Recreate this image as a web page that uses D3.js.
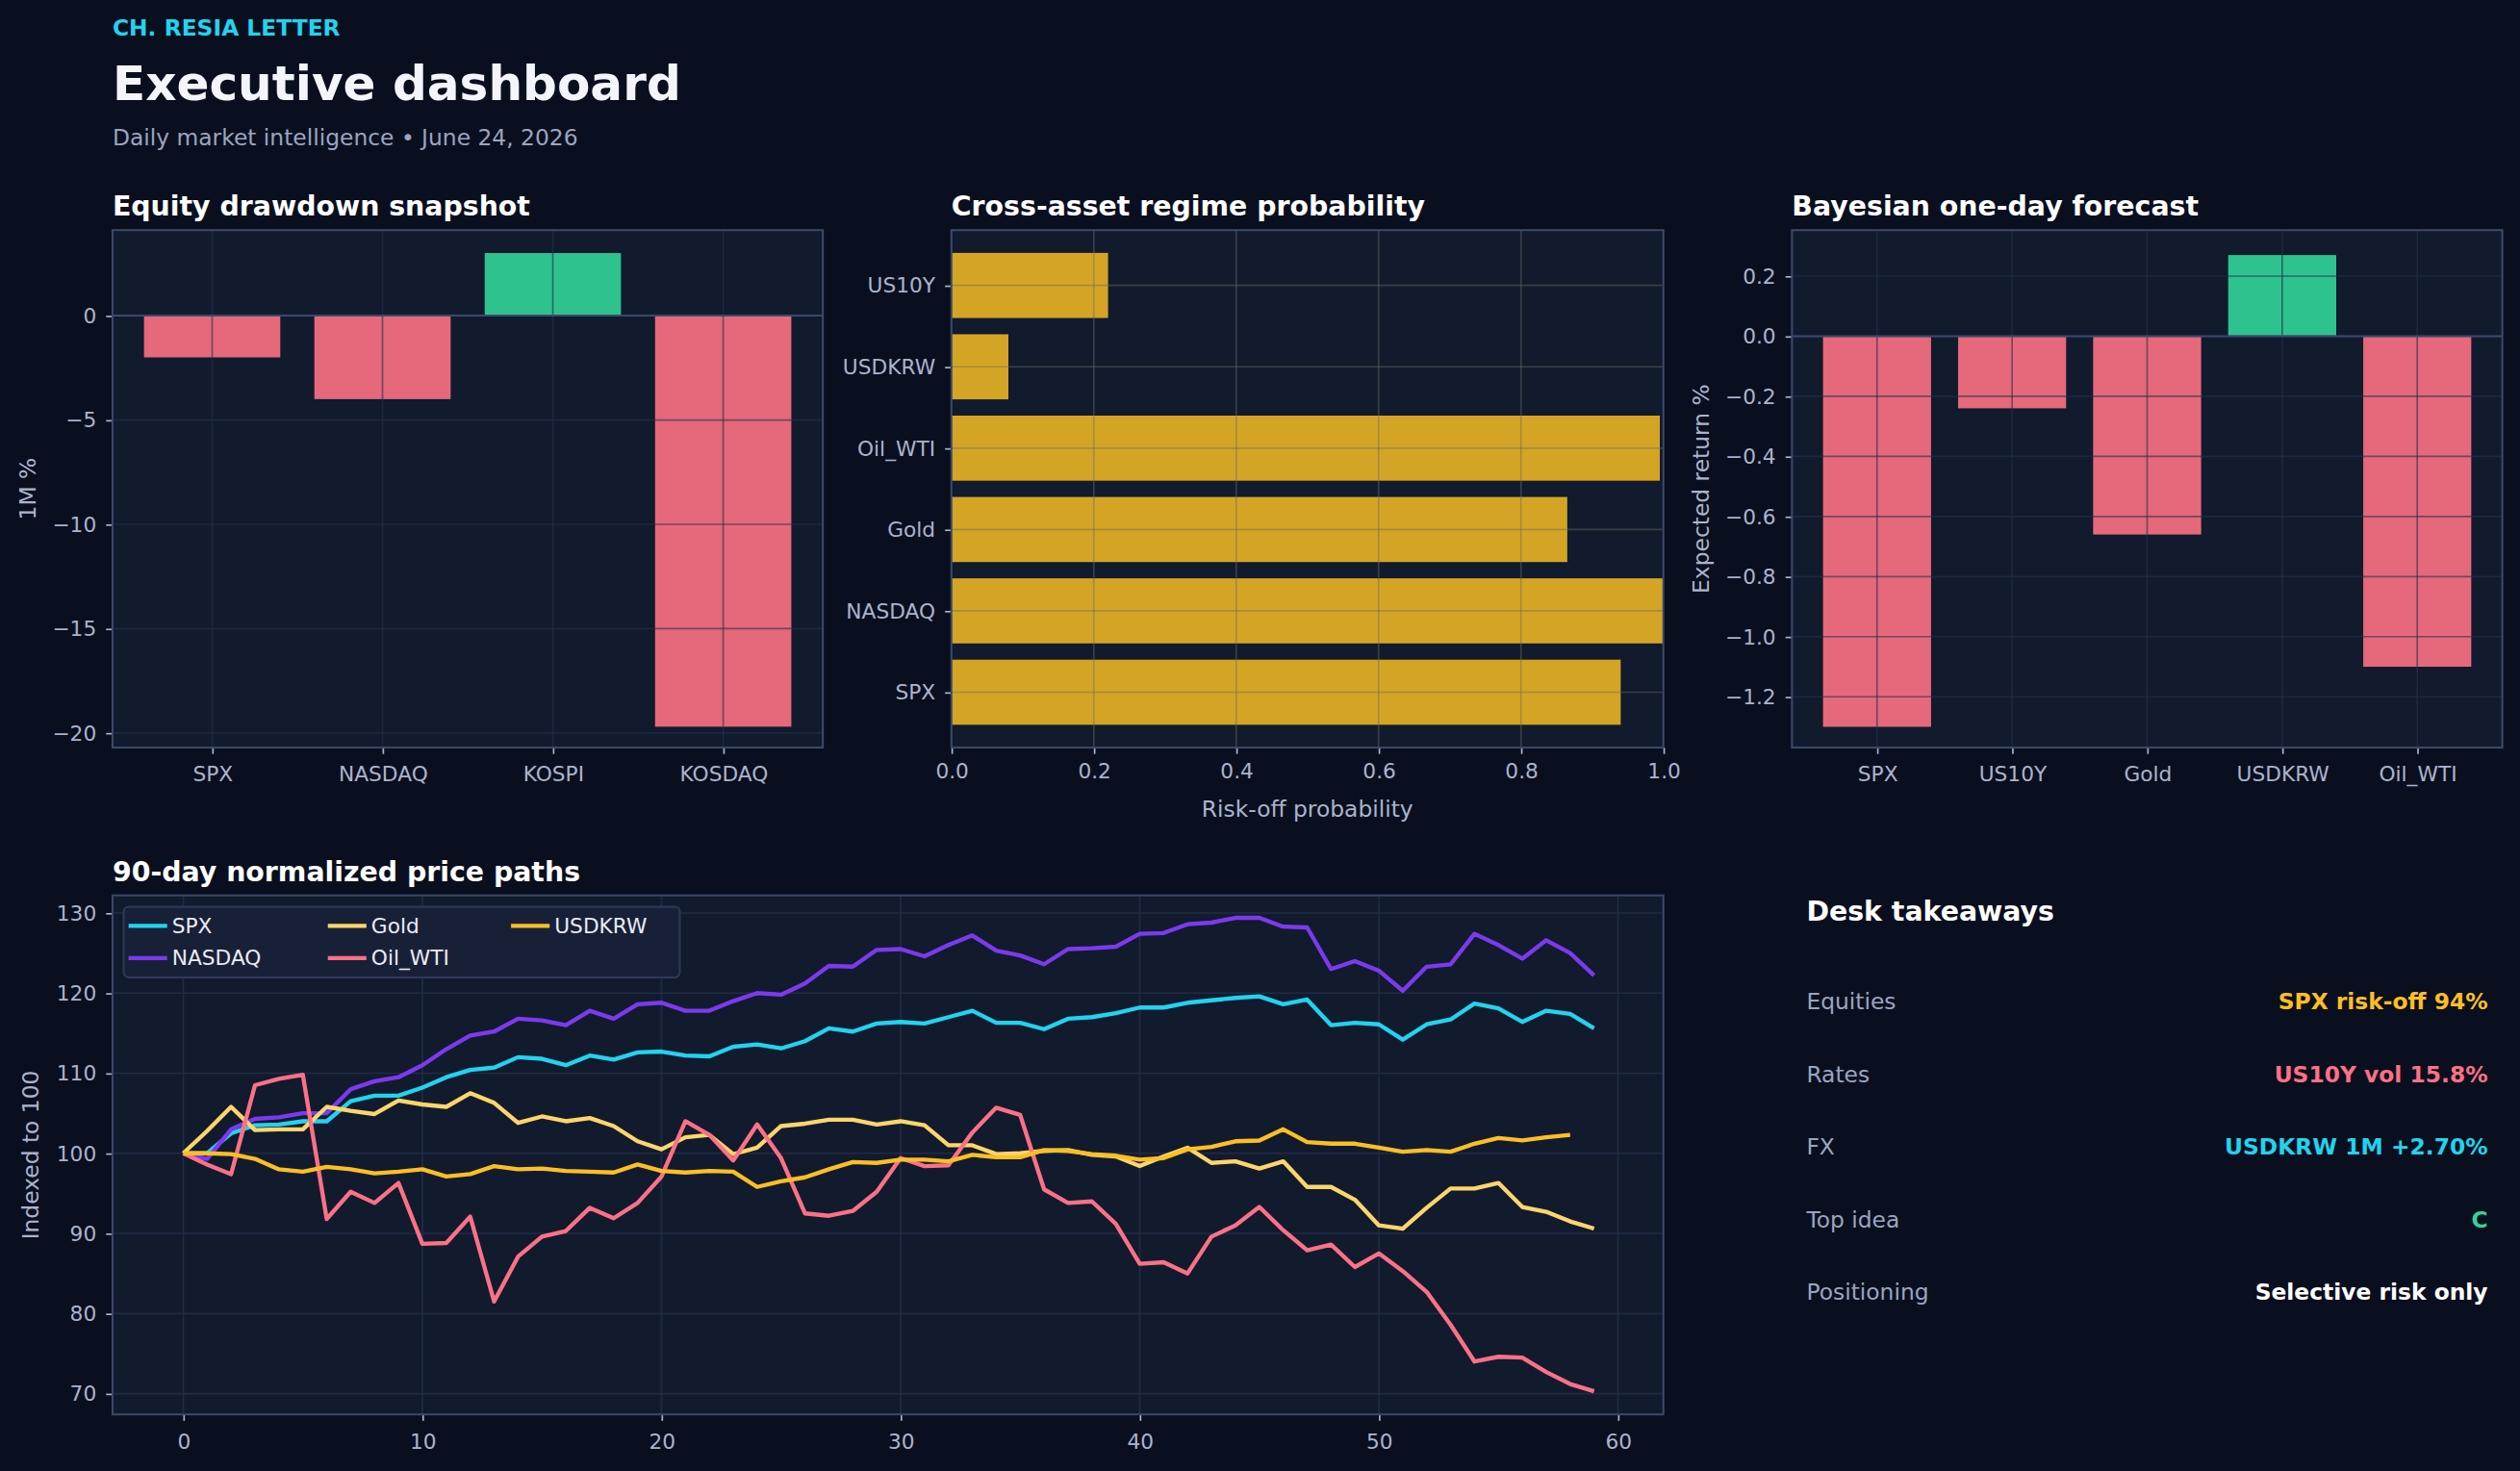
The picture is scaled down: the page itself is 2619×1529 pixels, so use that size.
<!DOCTYPE html><html><head><meta charset="utf-8">
<script src="https://cdn.jsdelivr.net/npm/d3@7"></script>
<style>html,body{margin:0;background:#0a0f1f;}svg{display:block;font-family:"DejaVu Sans",sans-serif;}</style></head><body>
<svg id="c" width="2619" height="1529" viewBox="0 0 1568 915"></svg>
<script>
const eqCats=["SPX","NASDAQ","KOSPI","KOSDAQ"];
const eqVals=[-2.0,-4.0,3.0,-19.7];
const regCats=["SPX","NASDAQ","Gold","Oil_WTI","USDKRW","US10Y"];
const regVals=[0.94,1.0,0.865,0.995,0.08,0.22];
const fcCats=["SPX","US10Y","Gold","USDKRW","Oil_WTI"];
const fcVals=[-1.3,-0.24,-0.66,0.27,-1.1];
const spx=[100,100,102.5,103.5,103.6,104,104,106.5,107.2,107.2,108.2,109.5,110.4,110.7,112,111.8,111,112.2,111.7,112.6,112.7,112.2,112.1,113.3,113.6,113.1,114,115.6,115.2,116.2,116.4,116.2,117,117.8,116.3,116.3,115.5,116.8,117,117.5,118.2,118.2,118.8,119.1,119.4,119.6,118.6,119.2,116,116.3,116.1,114.2,116.1,116.7,118.7,118.1,116.4,117.8,117.4,115.6];
const nasdaq=[100,99.3,103,104.3,104.5,105,105,108,109,109.5,111,113,114.7,115.2,116.8,116.6,116,117.8,116.8,118.6,118.8,117.8,117.8,119,120,119.8,121.2,123.4,123.3,125.4,125.5,124.6,126,127.2,125.3,124.7,123.6,125.5,125.6,125.8,127.4,127.5,128.6,128.8,129.4,129.4,128.3,128.2,123,124,122.8,120.3,123.3,123.6,127.4,126,124.3,126.6,125,122.2];
const gold=[100,102.8,105.8,102.9,103,103,105.8,105.3,104.9,106.6,106.1,105.8,107.5,106.3,103.8,104.6,104,104.4,103.4,101.5,100.5,102,102.3,99.9,100.7,103.4,103.7,104.2,104.2,103.6,104,103.5,101,101,99.9,100,100.3,100.4,99.8,99.6,98.4,99.6,100.7,98.8,99,98.1,99,95.8,95.8,94.2,91,90.6,93.2,95.6,95.6,96.3,93.3,92.7,91.5,90.6];
const oil=[100,98.6,97.4,108.5,109.3,109.8,91.8,95.2,93.8,96.3,88.7,88.8,92.1,81.5,87.1,89.6,90.3,93.2,91.9,93.8,97.1,104,102.3,99.1,103.6,99.4,92.5,92.2,92.8,95.2,99.4,98.4,98.5,102.6,105.7,104.8,95.5,93.8,94,91.2,86.2,86.4,85,89.6,91,93.3,90.4,87.9,88.6,85.8,87.5,85.3,82.7,78.6,74,74.6,74.5,72.7,71.2,70.3];
const usdkrw=[100,100,99.9,99.3,98,97.7,98.3,98,97.5,97.7,98,97.1,97.4,98.4,98,98.1,97.8,97.7,97.6,98.6,97.8,97.6,97.8,97.7,95.8,96.5,97,98,98.9,98.8,99.2,99.2,99,99.8,99.5,99.5,100.4,100.3,99.9,99.7,99.2,99.4,100.5,100.8,101.5,101.6,103,101.4,101.2,101.2,100.7,100.2,100.4,100.2,101.2,101.9,101.6,102,102.3];
const seriesNames=["SPX","NASDAQ","Gold","Oil_WTI","USDKRW"];
const seriesColors=["#22d3ee","#7c3aed","#fcd66a","#fb7185","#fbbf24"];
const seriesData=[spx,nasdaq,gold,oil,usdkrw];
const takeLabels=["Equities","Rates","FX","Top idea","Positioning"];
const takeValues=["SPX risk-off 94%","US10Y vol 15.8%","USDKRW 1M +2.70%","C","Selective risk only"];
const takeColors=["#fbbf24","#fb7185","#22d3ee","#34d399","#ffffff"];

const svg=d3.select("#c");
const RED="#e5697b",GREEN="#2ec28e",GOLDB="#d4a525",PANEL="#121a2e",BORDER="#3b4a6b",GRID="#243049",TICK="#aab4cc";
svg.append("rect").attr("width",1568).attr("height",915).attr("fill","#0a0f1f");
svg.append("text").attr("x",70).attr("y",22).text("CH. RESIA LETTER").attr("fill","#22d3ee").attr("font-size",14).attr("font-weight","bold");
svg.append("text").attr("x",70).attr("y",62).text("Executive dashboard").attr("fill","#f3f5fa").attr("font-size",30).attr("font-weight","bold");
svg.append("text").attr("x",70).attr("y",90).text("Daily market intelligence • June 24, 2026").attr("fill","#9aa5bf").attr("font-size",14);

function panel(x0,y0,x1,y1,title){
  svg.append("rect").attr("x",x0).attr("y",y0).attr("width",x1-x0).attr("height",y1-y0).attr("fill",PANEL);
  svg.append("text").attr("x",x0).attr("y",y0-9).text(title).attr("fill","#fff").attr("font-size",17).attr("font-weight","bold");
}
function border(x0,y0,x1,y1){svg.append("rect").attr("x",x0).attr("y",y0).attr("width",x1-x0).attr("height",y1-y0).attr("fill","none").attr("stroke",BORDER).attr("stroke-width",1.2);}
function styleAxis(g){g.selectAll("path").remove();g.selectAll("line").attr("stroke",TICK);g.selectAll("text").attr("fill",TICK).attr("font-size",13).attr("font-family","DejaVu Sans");}
function ylabel(x,y,t){svg.append("text").attr("transform",`translate(${x},${y}) rotate(-90)`).attr("text-anchor","middle").text(t).attr("fill",TICK).attr("font-size",14);}

// Panel 1
{const x0=70,x1=512,y0=143,y1=465;panel(x0,y0,x1,y1,"Equity drawdown snapshot");
const x=d3.scalePoint().domain(eqCats).range([x0,x1]).padding(0.585);
const y=d3.scaleLinear().domain([-20.7,4.1]).range([y1,y0]);
const bw=x.step()*0.8;const g=svg.append("g");
g.selectAll(".b").data(eqCats).join("rect").attr("x",d=>x(d)-bw/2).attr("width",bw)
 .attr("y",(d,i)=>y(Math.max(0,eqVals[i]))).attr("height",(d,i)=>Math.abs(y(eqVals[i])-y(0))).attr("fill",(d,i)=>eqVals[i]>=0?GREEN:RED);
[0,-5,-10,-15,-20].forEach(t=>g.append("line").attr("x1",x0).attr("x2",x1).attr("y1",y(t)).attr("y2",y(t)).attr("stroke",GRID).attr("stroke-opacity",0.6));
eqCats.forEach(c=>g.append("line").attr("x1",x(c)).attr("x2",x(c)).attr("y1",y0).attr("y2",y1).attr("stroke",GRID).attr("stroke-opacity",0.6));
g.append("line").attr("x1",x0).attr("x2",x1).attr("y1",y(0)).attr("y2",y(0)).attr("stroke","#3b4a6b").attr("stroke-width",1.2);
svg.append("g").attr("transform",`translate(${x0},0)`).call(d3.axisLeft(y).tickValues([0,-5,-10,-15,-20]).tickFormat(d=>d<0?"−"+(-d):d).tickSize(4).tickPadding(6)).call(styleAxis);
svg.append("g").attr("transform",`translate(0,${y1})`).call(d3.axisBottom(x).tickSize(4).tickPadding(8)).call(styleAxis);
border(x0,y0,x1,y1);ylabel(22,(y0+y1)/2,"1M %");}

// Panel 2
{const x0=592,x1=1035,y0=143,y1=465;panel(x0,y0,x1,y1,"Cross-asset regime probability");
const x=d3.scaleLinear().domain([0,1]).range([x0,x1]);
const y=d3.scalePoint().domain(regCats).range([y1,y0]).padding(0.68);
const bh=y.step()*0.8;const g=svg.append("g");
g.selectAll(".b").data(regCats).join("rect").attr("x",x0).attr("y",d=>y(d)-bh/2).attr("height",bh).attr("width",(d,i)=>x(regVals[i])-x0).attr("fill",GOLDB);
[0.2,0.4,0.6,0.8].forEach(t=>g.append("line").attr("x1",x(t)).attr("x2",x(t)).attr("y1",y0).attr("y2",y1).attr("stroke","#6b6a66").attr("stroke-opacity",0.45));
regCats.forEach(c=>g.append("line").attr("x1",x0).attr("x2",x1).attr("y1",y(c)).attr("y2",y(c)).attr("stroke","#6b6a66").attr("stroke-opacity",0.45));
svg.append("g").attr("transform",`translate(0,${y1})`).call(d3.axisBottom(x).tickValues([0,0.2,0.4,0.6,0.8,1]).tickFormat(d3.format(".1f")).tickSize(4).tickPadding(6)).call(styleAxis);
svg.append("g").attr("transform",`translate(${x0},0)`).call(d3.axisLeft(y).tickSize(4).tickPadding(6)).call(styleAxis);
border(x0,y0,x1,y1);
svg.append("text").attr("x",(x0+x1)/2).attr("y",508).attr("text-anchor","middle").text("Risk-off probability").attr("fill",TICK).attr("font-size",14);}

// Panel 3
{const x0=1115,x1=1557,y0=143,y1=465;panel(x0,y0,x1,y1,"Bayesian one-day forecast");
const x=d3.scalePoint().domain(fcCats).range([x0,x1]).padding(0.63);
const y=d3.scaleLinear().domain([-1.369,0.353]).range([y1,y0]);
const bw=x.step()*0.8;const g=svg.append("g");
const ticks=[0.2,0,-0.2,-0.4,-0.6,-0.8,-1.0,-1.2];
g.selectAll(".b").data(fcCats).join("rect").attr("x",d=>x(d)-bw/2).attr("width",bw)
 .attr("y",(d,i)=>y(Math.max(0,fcVals[i]))).attr("height",(d,i)=>Math.abs(y(fcVals[i])-y(0))).attr("fill",(d,i)=>fcVals[i]>=0?GREEN:RED);
ticks.forEach(t=>g.append("line").attr("x1",x0).attr("x2",x1).attr("y1",y(t)).attr("y2",y(t)).attr("stroke",GRID).attr("stroke-opacity",0.6));
fcCats.forEach(c=>g.append("line").attr("x1",x(c)).attr("x2",x(c)).attr("y1",y0).attr("y2",y1).attr("stroke",GRID).attr("stroke-opacity",0.6));
g.append("line").attr("x1",x0).attr("x2",x1).attr("y1",y(0)).attr("y2",y(0)).attr("stroke","#3b4a6b").attr("stroke-width",1.2);
svg.append("g").attr("transform",`translate(${x0},0)`).call(d3.axisLeft(y).tickValues(ticks).tickFormat(d=>(d<0?"−":"")+Math.abs(d).toFixed(1)).tickSize(4).tickPadding(6)).call(styleAxis);
svg.append("g").attr("transform",`translate(0,${y1})`).call(d3.axisBottom(x).tickSize(4).tickPadding(8)).call(styleAxis);
border(x0,y0,x1,y1);ylabel(1063,(y0+y1)/2,"Expected return %");}

// Panel 4
{const x0=70,x1=1035,y0=557,y1=880;panel(x0,y0,x1,y1,"90-day normalized price paths");
const x=d3.scaleLinear().domain([-2.96,61.9]).range([x0,x1]);
const y=d3.scaleLinear().domain([67.4,132.2]).range([y1,y0]);
const g=svg.append("g");
[70,80,90,100,110,120,130].forEach(t=>g.append("line").attr("x1",x0).attr("x2",x1).attr("y1",y(t)).attr("y2",y(t)).attr("stroke",GRID).attr("stroke-opacity",0.8));
[0,10,20,30,40,50,60].forEach(t=>g.append("line").attr("x1",x(t)).attr("x2",x(t)).attr("y1",y0).attr("y2",y1).attr("stroke",GRID).attr("stroke-opacity",0.8));
const line=d3.line().x((d,i)=>x(i)).y(d=>y(d));
seriesData.forEach((s,k)=>g.append("path").attr("d",line(s)).attr("fill","none").attr("stroke",seriesColors[k]).attr("stroke-width",2.6).attr("stroke-linejoin","round"));
svg.append("g").attr("transform",`translate(${x0},0)`).call(d3.axisLeft(y).tickValues([70,80,90,100,110,120,130]).tickSize(4).tickPadding(6)).call(styleAxis);
svg.append("g").attr("transform",`translate(0,${y1})`).call(d3.axisBottom(x).tickValues([0,10,20,30,40,50,60]).tickSize(4).tickPadding(8)).call(styleAxis);
border(x0,y0,x1,y1);ylabel(24,(y0+y1)/2,"Indexed to 100");
const lg=svg.append("g");
lg.append("rect").attr("x",77).attr("y",564).attr("width",346).attr("height",44).attr("rx",3).attr("fill","#182038").attr("stroke","#2e3a58").attr("stroke-width",1.2);
const pos=[[80,576],[80,596],[204,576],[204,596],[318,576]];
seriesNames.forEach((n,k)=>{const [px,py]=pos[k];
 lg.append("line").attr("x1",px).attr("x2",px+24).attr("y1",py).attr("y2",py).attr("stroke",seriesColors[k]).attr("stroke-width",2.6);
 lg.append("text").attr("x",px+27).attr("y",py+4.5).text(n).attr("fill","#e8ecf4").attr("font-size",13);});}

// Takeaways
svg.append("text").attr("x",1124).attr("y",573).text("Desk takeaways").attr("fill","#fff").attr("font-size",17).attr("font-weight","bold");
takeLabels.forEach((l,i)=>{const yy=628+i*45.2;
 svg.append("text").attr("x",1124).attr("y",yy).text(l).attr("fill","#9aa5bf").attr("font-size",14);
 svg.append("text").attr("x",1548).attr("y",yy).attr("text-anchor","end").text(takeValues[i]).attr("fill",takeColors[i]).attr("font-size",14).attr("font-weight","bold");});
</script></body></html>
